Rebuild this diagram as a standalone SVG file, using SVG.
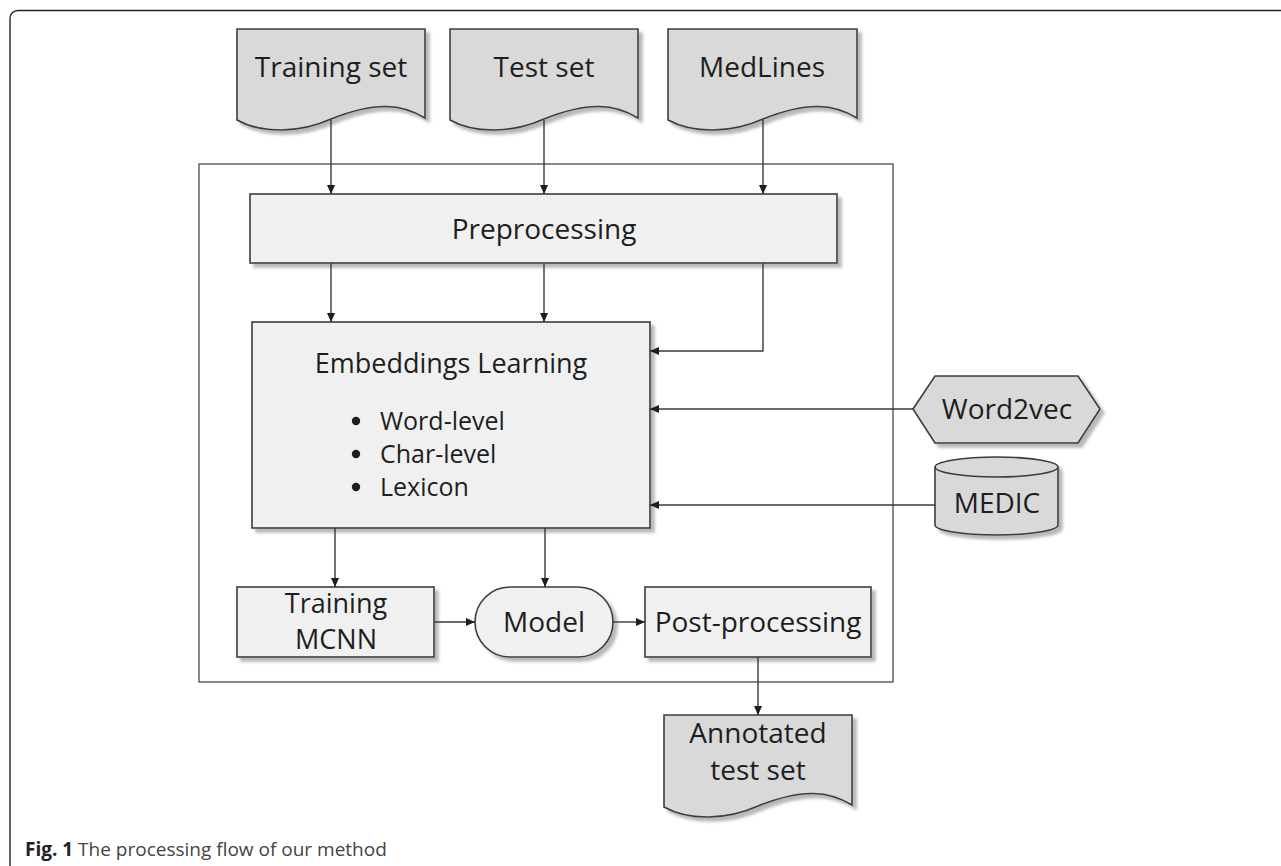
<svg xmlns="http://www.w3.org/2000/svg" width="1281" height="866" viewBox="0 0 1281 866">
<style>
  text { font-family: "Open Sans", "Noto Sans", "DejaVu Sans", sans-serif; fill: #1e1e1e; }
  .lbl { font-size: 28px; text-anchor: middle; }
  .doc { fill: #d9d9d9; stroke: #3c3c3c; stroke-width: 1.6; filter: url(#sh); }
  .box { fill: #f0f0f0; stroke: #3c3c3c; stroke-width: 1.6; filter: url(#sh); }
  .frame { fill: none; stroke: #4a4a4a; stroke-width: 1.3; }
  .conn path { fill: none; stroke: #3a3a3a; stroke-width: 1.4; marker-end: url(#ah); }
</style>
<defs>
  <filter id="sh" x="-10%" y="-10%" width="130%" height="140%">
    <feDropShadow dx="4" dy="4" stdDeviation="1.5" flood-color="#9a9a9a" flood-opacity="0.7"/>
  </filter>
  <marker id="ah" viewBox="0 0 10 10" refX="10" refY="5" markerWidth="9" markerHeight="9" markerUnits="userSpaceOnUse" orient="auto">
    <path d="M0,0.5 L10,5 L0,9.5 Z" fill="#1e1e1e"/>
  </marker>
</defs>
<rect width="1281" height="866" fill="#ffffff"/>

<!-- outer page frame -->
<path d="M1281,10.5 H18 A8,8 0 0 0 10,18.5 V866" fill="none" stroke="#222" stroke-width="1.4"/>

<!-- inner process frame -->
<rect id="process-frame" class="frame" x="199" y="164" width="694" height="518"/>

<g id="training-set">
  <path class="doc" d="M237,29 H425 V118 C402,104 376,101 331,119 C300,133 262,134 237,120 Z"/>
  <text class="lbl" x="331" y="77">Training set</text>
</g>
<g id="test-set">
  <path class="doc" d="M450,29 H638 V118 C615,104 589,101 544,119 C513,133 475,134 450,120 Z"/>
  <text class="lbl" x="544" y="77">Test set</text>
</g>
<g id="medlines">
  <path class="doc" d="M668,29 H857 V118 C834,104 808,101 763,119 C732,133 694,134 668,120 Z"/>
  <text class="lbl" x="762" y="77">MedLines</text>
</g>

<g id="preprocessing">
  <rect class="box" x="250" y="194" width="587" height="69"/>
  <text class="lbl" x="544" y="239">Preprocessing</text>
</g>

<g id="embeddings">
  <rect class="box" x="252" y="322" width="398" height="206"/>
  <text x="451" y="373" font-size="27" text-anchor="middle">Embeddings Learning</text>
  <circle cx="356" cy="421" r="4.2" fill="#1e1e1e"/>
  <circle cx="356" cy="454" r="4.2" fill="#1e1e1e"/>
  <circle cx="356" cy="487" r="4.2" fill="#1e1e1e"/>
  <text x="380" y="430" font-size="25">Word-level</text>
  <text x="380" y="463" font-size="25">Char-level</text>
  <text x="380" y="496" font-size="25">Lexicon</text>
</g>

<g id="word2vec">
  <path class="doc" d="M913,409 L935,376 H1078 L1100,409 L1078,443 H935 Z"/>
  <text class="lbl" x="1007" y="419">Word2vec</text>
</g>

<g id="medic">
  <path class="doc" d="M935,467 A61.5,10 0 0 1 1058,467 V525 A61.5,10 0 0 1 935,525 Z"/>
  <path d="M935,467 A61.5,10 0 0 0 1058,467" fill="none" stroke="#3c3c3c" stroke-width="1.6"/>
  <text class="lbl" x="997" y="513">MEDIC</text>
</g>

<g id="training-mcnn">
  <rect class="box" x="237" y="587" width="197" height="70"/>
  <text x="336" y="613" font-size="27" text-anchor="middle">Training</text>
  <text x="336" y="649" font-size="27" text-anchor="middle">MCNN</text>
</g>

<g id="model">
  <rect class="box" x="475" y="587" width="138" height="70" rx="35" ry="35"/>
  <text class="lbl" x="544" y="632">Model</text>
</g>

<g id="post-processing">
  <rect class="box" x="645" y="587" width="226" height="70"/>
  <text class="lbl" x="758" y="632">Post-processing</text>
</g>

<g id="annotated-test-set">
  <path class="doc" d="M664,715 H852 V805 C829,791 803,788 758,806 C727,820 689,821 664,807 Z"/>
  <text class="lbl" x="758" y="743">Annotated</text>
  <text class="lbl" x="758" y="780">test set</text>
</g>

<g id="connectors" class="conn">
  <path d="M331,120 V194"/>
  <path d="M544,120 V194"/>
  <path d="M763,120 V194"/>
  <path d="M331,263 V322"/>
  <path d="M544,263 V322"/>
  <path d="M763,263 V351 H650"/>
  <path d="M913,409 H650"/>
  <path d="M935,505 H650"/>
  <path d="M335,528 V587"/>
  <path d="M545,528 V587"/>
  <path d="M434,622 H475"/>
  <path d="M613,622 H645"/>
  <path d="M758,657 V715"/>
</g>

<text x="25" y="856" font-size="19"><tspan font-weight="bold" fill="#222">Fig. 1</tspan><tspan fill="#444"> The processing flow of our method</tspan></text>
</svg>
